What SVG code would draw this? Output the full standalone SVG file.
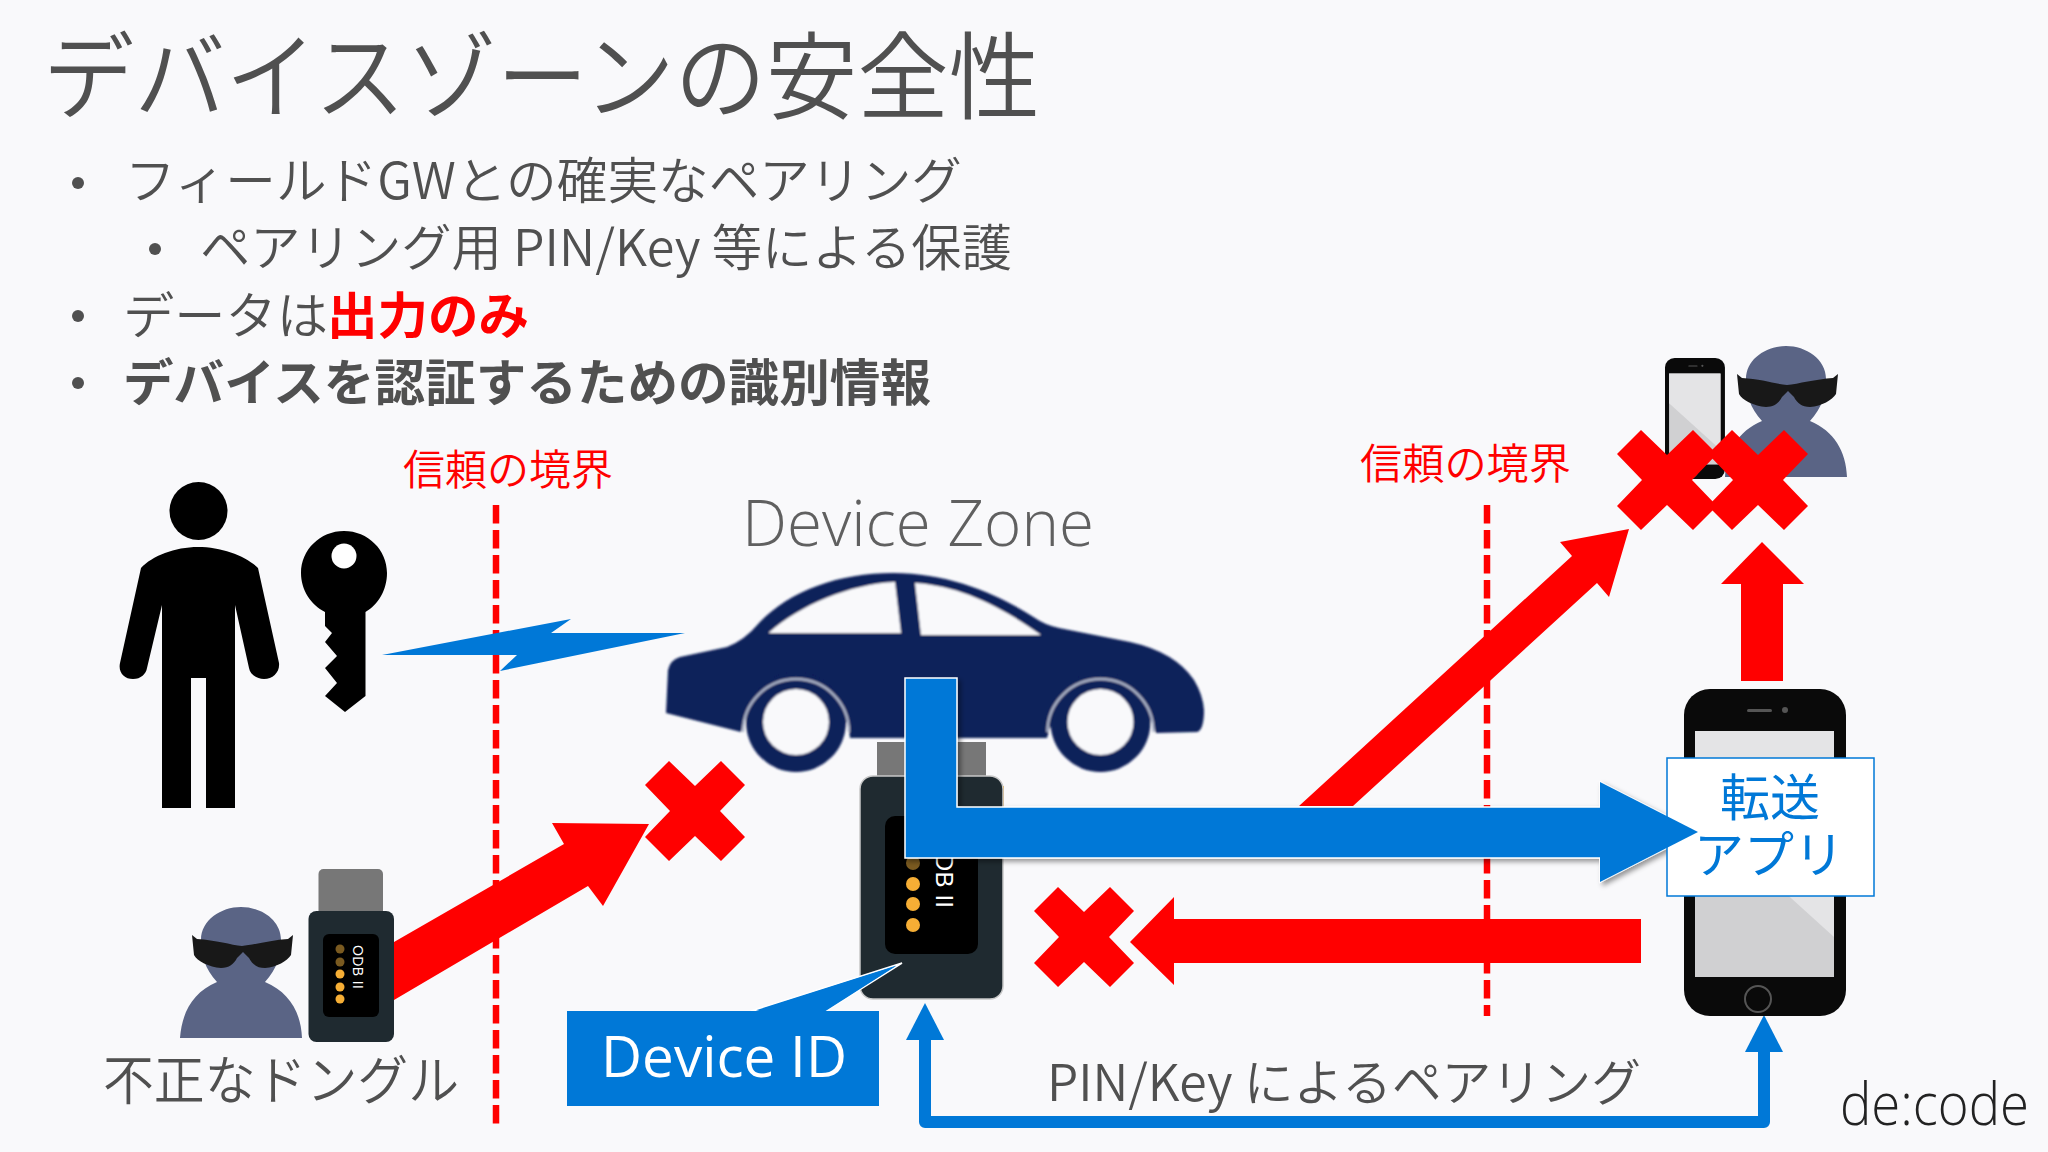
<svg xmlns="http://www.w3.org/2000/svg" width="2048" height="1152" viewBox="0 0 2048 1152">
<style>
text{font-family:"Noto Sans CJK JP","Noto Sans",sans-serif;fill:#505050}
.l{font-weight:350}
.b{font-weight:700}
.red{fill:#ff0000}
.latin{font-family:"Open Sans","Noto Sans",sans-serif;font-weight:300}
.body{font-size:50px;font-weight:350}
.boundary{font-size:42px;fill:#ff0000;font-weight:350}
.dash{fill:none;stroke:#ff0000;stroke-width:6.5;stroke-dasharray:18.5 6.5}
.rf{fill:#ff0000}
.bf{fill:#0078d7}
.bg{fill:#f9f9fb}
</style>
<defs>
<filter id="sh" x="-5%" y="-10%" width="110%" height="125%"><feDropShadow dx="3" dy="3" stdDeviation="2.5" flood-color="#000" flood-opacity=".4"/></filter>
<filter id="soft" x="-5%" y="-5%" width="110%" height="110%"><feGaussianBlur stdDeviation="0.9"/></filter>
<polygon id="x" class="rf" points="-26,-50 0,-25 26,-50 50,-26 25,0 50,26 26,50 0,25 -26,50 -50,26 -25,0 -50,-26"/>
<g id="spy">
<path fill="#5a6485" d="M-61,131C-59,105-48,85-24,75C-36,62-40,48-40,33C-40,13-20,0 0,0C20,0 40,13 40,33C40,48 36,62 24,75C48,85 60,105 61,131Z"/>
<path fill="#181818" d="M-49,28L-44,32C-25,33-10,38 1,39C12,38 30,33 47,32L52,28L50,48C46,54 36,60 24,61C16,61 11,57 8,51L2,45L-4,51C-7,57-12,61-20,61C-32,60-44,54-47,48Z"/>
</g>
<g id="phone">
<rect width="162" height="327" rx="26" fill="#0a0a0a"/>
<rect x="11" y="42" width="139" height="246" fill="#d0d0d2"/>
<polygon points="11,42 150,42 150,248 11,122" fill="#e4e4e6"/>
<rect x="63" y="20" width="25" height="3" rx="1.5" fill="#555"/>
<circle cx="101" cy="21" r="3" fill="#555"/>
<circle cx="74" cy="310" r="13" fill="none" stroke="#555" stroke-width="2"/>
</g>
<marker id="up" markerUnits="userSpaceOnUse" markerWidth="38" markerHeight="38" refX="19" refY="37" orient="0"><polygon points="19,0 38,37 0,37" class="bf"/></marker>
</defs>
<rect width="2048" height="1152" class="bg"/>

<g id="title"><text x="43" y="112" font-size="95" class="l" textLength="997" lengthAdjust="spacingAndGlyphs">デバイスゾーンの安全性</text></g>

<g id="bullets">
<circle cx="78" cy="183" r="6" fill="#505050"/>
<text x="125" y="199" class="body" textLength="837" lengthAdjust="spacingAndGlyphs">フィールドGWとの確実なペアリング</text>
<circle cx="155" cy="249" r="6" fill="#505050"/>
<text x="200" y="266" class="body" textLength="812" lengthAdjust="spacingAndGlyphs">ペアリング用 PIN/Key 等による保護</text>
<circle cx="78" cy="316" r="6" fill="#505050"/>
<text x="123" y="334" class="body" textLength="205" lengthAdjust="spacingAndGlyphs">データは</text>
<text x="327" y="334" font-size="50" class="b red" textLength="202" lengthAdjust="spacingAndGlyphs">出力のみ</text>
<circle cx="78" cy="383" r="6" fill="#505050"/>
<text x="123" y="401" font-size="50" class="b" textLength="808" lengthAdjust="spacingAndGlyphs">デバイスを認証するための識別情報</text>
</g>

<g id="boundary-left"><text x="403" y="485" class="boundary" textLength="210" lengthAdjust="spacingAndGlyphs">信頼の境界</text><path class="dash" d="M496,505V1125"/></g>
<g id="boundary-right"><text x="1360" y="479" class="boundary" textLength="211" lengthAdjust="spacingAndGlyphs">信頼の境界</text><path class="dash" d="M1487,505V1016"/></g>

<g id="person">
<ellipse cx="198.500" cy="511" rx="29" ry="29"/>
<path d="M198,547C175,547 152,556 141,568L120,663C118,672 124,679 133,679C141,679 146,674 147,668L162,605V808H191V678H206V808H235V605L249,668C250,674 256,679 264,679C273,679 280,672 279,663L258,568C246,556 222,547 198,547Z"/>
</g>
<g id="key" transform="translate(1,0)">
<path d="M343,531C319,531 300,550 300,573C300,590 310,605 324,612V626L331,633L324,642L336,656L324,668L336,683L324,696L344,712L364.500,696V612C377,605 386,590 386,573C386,550 367,531 343,531Z"/>
<ellipse cx="343" cy="556" rx="12.500" ry="12.500" fill="#fff"/>
</g>
<polygon id="signal" class="bf" points="382,655 571,619 551,633 685,633 500,671 517,655"/>

<g id="dongle-main">
<rect x="877" y="742" width="109" height="40" fill="#777"/>
<rect x="1000" y="786" width="4" height="24" fill="#f6ae35"/>
<rect x="860" y="776" width="143" height="223" rx="13" fill="#1f2a30" stroke="#c8c8c8" stroke-width="1.500"/>
<rect x="885" y="816" width="93" height="138" rx="10" fill="#000"/>
<circle cx="913" cy="863" r="7" fill="#7a5a20"/>
<circle cx="913" cy="884" r="7" fill="#f6ae35"/>
<circle cx="913" cy="904" r="7" fill="#f6ae35"/>
<circle cx="913" cy="925" r="7" fill="#f6ae35"/>
<text transform="translate(936,835) rotate(90)" font-size="24" style="fill:#fff;font-family:'Liberation Sans',sans-serif" textLength="73">ODB II</text>
</g>

<g id="car" fill="#10205a" filter="url(#soft)">
<path d="M666,713L668,670Q670,660 680,657L727,647Q745,640 759,623C790,590 840,573 893,573C950,573 1000,595 1035,618Q1045,625 1059,628L1130,642Q1175,652 1194,680Q1203,695 1204,710Q1204,730 1197,732L1156,733A56,56 0 0 0 1047,738H850A55,55 0 0 0 741,732Z"/>
<circle cx="796" cy="722" r="50"/><circle cx="796" cy="722" r="33" class="bg"/>
<circle cx="1100.500" cy="722" r="50"/><circle cx="1100.500" cy="722" r="33" class="bg"/>
<path d="M743,732A53,53 0 0 1 849,732M1047.500,732A53,53 0 0 1 1153.500,732" fill="none" stroke="#aeb5c8" stroke-width="2.500"/>
<path class="bg" d="M768.500,633C800,605 850,584 895,582L901,633Z"/>
<path class="bg" d="M915,583C960,586 1000,606 1041,635H921Z"/>
</g>

<g id="connectors">
<polygon class="rf" points="1299,806 1353,806 1597,583 1609,597 1629,529 1560,542 1572,556"/>
<polygon class="rf" points="394,942 564,844 552,823 649,824 603,906 588,886 394,1000"/>
<polygon class="rf" points="1641,919 1174,919 1174,897 1130,942 1174,985 1174,963 1641,963"/>
<polygon class="rf" points="1741,681 1741,584 1721,584 1762,542 1804,584 1783,584 1783,681"/>
<path d="M925,1040V1122H1764V1052" fill="none" stroke="#0078d7" stroke-width="12" stroke-linejoin="round" marker-start="url(#up)" marker-end="url(#up)"/>
<polygon class="bf" stroke="#fff" stroke-width="1.500" filter="url(#sh)" points="905,678 957,678 957,807 1600,807 1600,782 1698,832 1600,882 1600,858 905,858"/>
</g>

<use id="x-dongle" href="#x" x="695" y="811"/>
<use id="x-return" href="#x" x="1084" y="937"/>

<g id="dongle-rogue">
<rect x="318.500" y="869" width="64.500" height="48" rx="5" fill="#777"/>
<rect x="308.500" y="911" width="85.500" height="131" rx="8" fill="#1f2a30"/>
<rect x="323" y="934" width="56" height="83" rx="6" fill="#000"/>
<circle cx="340" cy="949" r="4.500" fill="#7a5a20"/><circle cx="340" cy="962" r="4.500" fill="#7a5a20"/>
<circle cx="340" cy="974" r="4.500" fill="#f6ae35"/><circle cx="340" cy="987" r="4.500" fill="#f6ae35"/><circle cx="340" cy="999" r="4.500" fill="#f6ae35"/>
<text transform="translate(353,945) rotate(90)" font-size="14" style="fill:#fff;font-family:'Liberation Sans',sans-serif" textLength="44">ODB II</text>
</g>
<use id="spy-rogue" href="#spy" x="241" y="907"/>
<g id="label-rogue"><text x="103" y="1100" font-size="53" class="l" textLength="356" lengthAdjust="spacingAndGlyphs">不正なドングル</text></g>

<g id="device-zone"><text x="742" y="546" font-size="64" class="latin" style="fill:#606060" textLength="352" lengthAdjust="spacingAndGlyphs">Device Zone</text></g>

<g id="device-id">
<path class="bf" stroke="#fff" stroke-width="1.500" d="M751,1011L902,963L826,1011Z"/>
<rect x="567" y="1011" width="312" height="95" class="bf"/>
<polygon class="bf" points="753,1012 896,966 824,1012"/>
<text x="601" y="1077" font-size="57" style="fill:#fff;font-family:'Open Sans','Noto Sans',sans-serif" textLength="246" lengthAdjust="spacingAndGlyphs">Device ID</text>
</g>

<use id="phone-main" href="#phone" x="1684" y="689"/>
<g id="app">
<rect x="1667" y="758" width="207" height="138" fill="#fff" stroke="#0078d7" stroke-width="1.500"/>
<text x="1770" y="816" font-size="50" text-anchor="middle" style="fill:#0078d7">転送</text>
<text x="1769" y="873" font-size="50" text-anchor="middle" style="fill:#0078d7">アプリ</text>
</g>
<polygon class="bf" points="1600,782 1698,832 1600,882"/>

<use id="phone-stolen" href="#phone" transform="translate(1665,358) scale(.37)"/>
<use id="spy-stolen" href="#spy" x="1786" y="346"/>
<use id="x-phone" href="#x" x="1667" y="480"/>
<use id="x-spy" href="#x" x="1758" y="480"/>

<g id="label-pairing"><text x="1047" y="1101" font-size="50" class="l" textLength="594" lengthAdjust="spacingAndGlyphs">PIN/Key によるペアリング</text></g>
<g id="logo"><text x="1840" y="1125" font-size="59" class="latin" style="fill:#222" textLength="189" lengthAdjust="spacingAndGlyphs">de:code</text></g>
</svg>
